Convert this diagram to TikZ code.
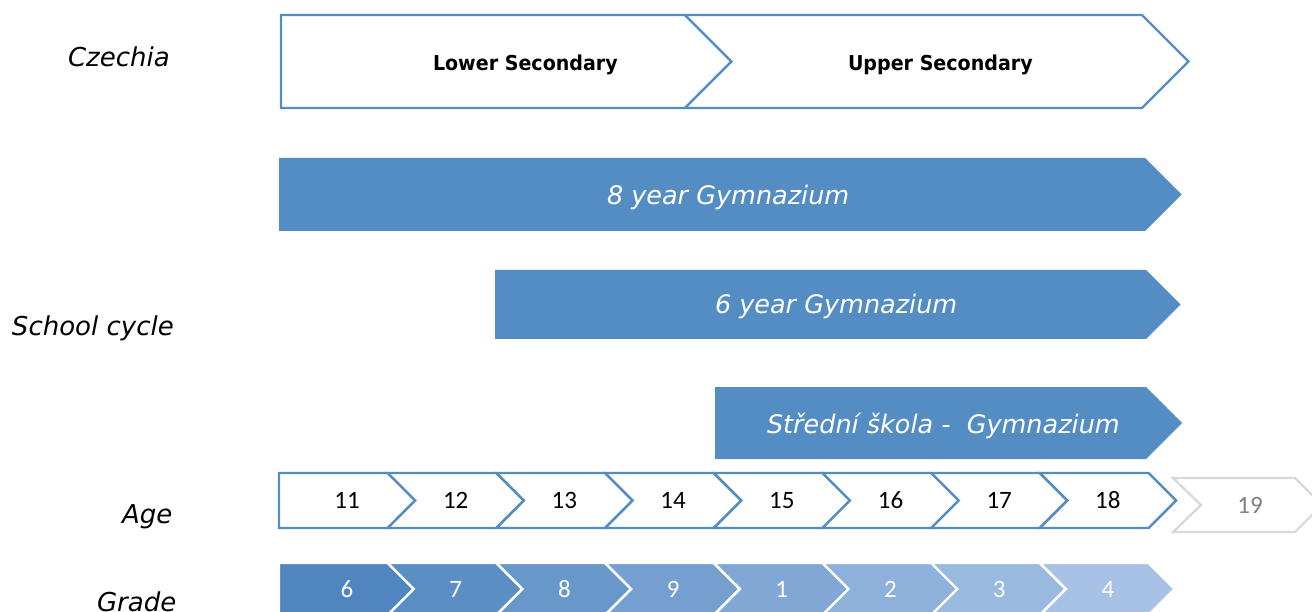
\documentclass[tikz,border=0pt]{standalone}
\usepackage{fontspec}
\setmainfont{DejaVu Sans}
\newfontfamily\calibri{Carlito}
\newfontfamily\narrowsans[FakeStretch=0.93]{DejaVu Sans}

\begin{document}
\begin{tikzpicture}[x={(1pt,0pt)}, y={(0pt,-1pt)},
    inner sep=0pt, outer sep=0pt,
    rowlabel/.style={anchor=base west, font=\fontsize{26}{30}\selectfont\itshape},
    stage/.style={anchor=base west, font=\narrowsans\fontsize{20.5}{24}\selectfont\bfseries},
    track/.style={fill=cblue, draw=none},
    tracktext/.style={anchor=base west, text=white, font=\fontsize{25.5}{30}\selectfont\itshape},
    outline/.style={draw=cblue, line width=2.4pt, fill=white, line join=miter},
    ghost/.style={draw=black!15, line width=2.4pt, fill=white, line join=miter},
    num/.style={anchor=base, font=\calibri\fontsize{25}{29}\selectfont},
]
    % Colors
    \definecolor{cblue}{RGB}{84,141,196}
    \definecolor{gradeA}{RGB}{79,134,192}
    \definecolor{gradeB}{RGB}{167,194,228}

    \useasboundingbox (0,0) rectangle (1312,612);
    \clip (0,0) rectangle (1312,612);

    % Row labels
    \node[rowlabel] (czechia) at (68,67)  {Czechia};
    \node[rowlabel] (cycle)   at (12,335) {School cycle};
    \node[rowlabel] (age)     at (122,523) {Age};
    \node[rowlabel] (grade)   at (97,611) {Grade};

    % Lower / upper secondary
    \draw[outline] (281,15) -- (685,15) -- (731.5,61.5) -- (685,108) -- (281,108) -- cycle;
    \draw[outline] (685,15) -- (1142,15) -- (1188.5,61.5) -- (1142,108) -- (685,108)
        -- (731.5,61.5) -- cycle;
    \node[stage] (lower) at (433,71) {Lower Secondary};
    \node[stage] (upper) at (848,71) {Upper Secondary};

    % School tracks
    \fill[track] (279,158) -- (1145,158) -- (1181.5,194.5) -- (1145,231) -- (279,231) -- cycle;
    \node[tracktext] (gym8) at (607,205) {8 year Gymnazium};

    \fill[track] (495,270) -- (1146,270) -- (1180.5,304.5) -- (1146,339) -- (495,339) -- cycle;
    \node[tracktext] (gym6) at (715,314) {6 year Gymnazium};

    \fill[track] (715,387) -- (1146,387) -- (1182,423) -- (1146,459) -- (715,459) -- cycle;
    \node[tracktext] (stredni) at (767,433) {Střední škola -\ \ Gymnazium};

    % Age
    \foreach \k/\a in {0/11,1/12,2/13,3/14,4/15,5/16,6/17,7/18} {
        \pgfmathsetmacro\xa{279+108.7*\k}
        \pgfmathsetmacro\n{\k>0 ? 27.5 : 0}
        \draw[outline] (\xa,473) -- ++(108.7,0) -- ++(27.5,27.5) -- ++(-27.5,27.5)
            -- ++(-108.7,0) -- ++(\n,-27.5) -- cycle;
        \node[num] (age\a) at (\xa+68,508) {\a};
    }
    \draw[ghost] (1173,478) -- ++(122,0) -- ++(27,27) -- ++(-27,27) -- ++(-122,0)
        -- ++(28,-27) -- cycle;
    \node[num, text=black!50] (age19) at (1250,513) {19};

    % Grade
    \foreach \k/\g in {0/6,1/7,2/8,3/9,4/1,5/2,6/3,7/4} {
        \pgfmathsetmacro\xa{279+108.7*\k}
        \pgfmathsetmacro\n{\k>0 ? 26 : 0}
        \pgfmathtruncatemacro\mix{100*\k/7}
        \draw[draw=white, line width=2.4pt, fill=gradeB!\mix!gradeA] (\xa,563) -- ++(108.7,0)
            -- ++(26,26) -- ++(-26,26) -- ++(-108.7,0) -- ++(\n,-26) -- cycle;
        \node[num, text=white] (grade\g) at (\xa+68,597) {\g};
    }
\end{tikzpicture}
\end{document}
